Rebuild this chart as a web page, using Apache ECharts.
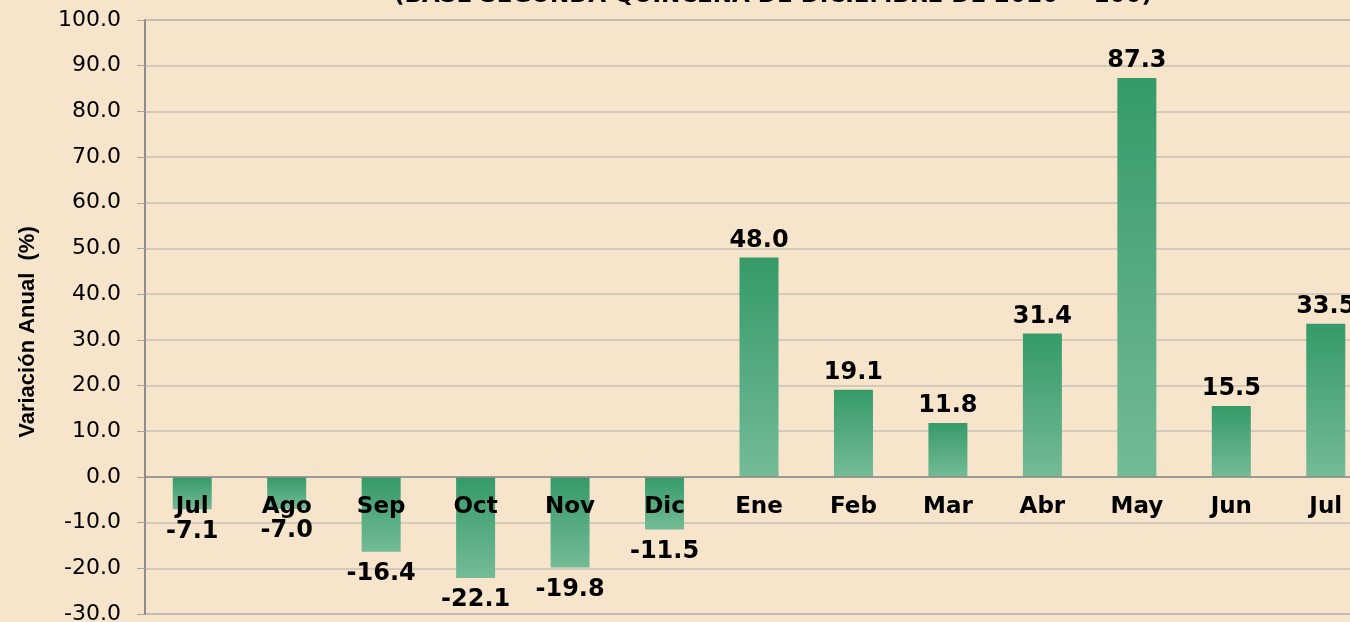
<!DOCTYPE html>
<html>
<head>
<meta charset="utf-8">
<script src="https://cdn.jsdelivr.net/npm/echarts@6/dist/echarts.min.js"></script>
<style>
  html, body { margin: 0; padding: 0; background: #f7e5cb; }
  #chart { width: 1350px; height: 622px; }
</style>
</head>
<body>
<div id="chart"></div>
<script>
var months = ['Jul', 'Ago', 'Sep', 'Oct', 'Nov', 'Dic', 'Ene', 'Feb', 'Mar', 'Abr', 'May', 'Jun', 'Jul'];
var variacion = [-7.1, -7.0, -16.4, -22.1, -19.8, -11.5, 48.0, 19.1, 11.8, 31.4, 87.3, 15.5, 33.5];
var titleText = '(BASE SEGUNDA QUINCENA DE DICIEMBRE DE 2010 = 100)';
var yName = 'Variación Anual  (%)';

var yMin = -30, yMax = 100;
var gridTop = 20, gridHeight = 594;

var myChart = echarts.init(document.getElementById('chart'));

var barColor = new echarts.graphic.LinearGradient(0, 0, 0, 1, [
  { offset: 0, color: '#359a68' },
  { offset: 1, color: '#74bb96' }
]);

var barData = variacion.map(function (v) {
  return {
    value: v,
    label: { position: v < 0 ? 'bottom' : 'top', distance: v < 0 ? 10 : 5 }
  };
});

// x axis sits on the zero line: shift it up from the bottom of the grid
var zeroOffset = -gridHeight * (0 - yMin) / (yMax - yMin);

var option = {
  backgroundColor: '#f7e5cb',
  title: {
    text: titleText,
    left: 768,
    textAlign: 'center',
    top: -20,
    textStyle: {
      fontFamily: 'DejaVu Sans',
      fontWeight: 'bold',
      fontSize: 23,
      color: '#000'
    }
  },
  grid: {
    left: 145,
    top: gridTop,
    width: 1228,
    height: gridHeight,
    outerBoundsMode: 'none',
    containLabel: false,
    show: true,
    borderColor: '#a9a69f',
    borderWidth: 1.5
  },
  xAxis: {
    type: 'category',
    data: months,
    position: 'bottom',
    offset: zeroOffset,
    z: 5,
    axisLine: { onZero: false, lineStyle: { color: '#8c8c8c', width: 1.5 } },
    axisTick: { length: 5, lineStyle: { color: '#8c8c8c', width: 1.5 } },
    axisLabel: {
      margin: 19,
      fontFamily: 'DejaVu Sans',
      fontWeight: 'bold',
      fontSize: 23,
      color: '#000'
    }
  },
  yAxis: {
    type: 'value',
    min: yMin,
    max: yMax,
    interval: 10,
    name: yName,
    nameLocation: 'middle',
    nameGap: 106,
    nameTextStyle: {
      fontFamily: 'Liberation Sans Narrow, Liberation Sans',
      fontWeight: 'bold',
      fontSize: 22,
      color: '#000',
      padding: [0, 30, 0, 0]
    },
    axisLine: { show: true, lineStyle: { color: '#8c8c8c', width: 2 } },
    axisTick: { show: true, length: 8, lineStyle: { color: '#a9a69f' } },
    splitLine: { lineStyle: { color: '#c6c1b8', width: 1.5 } },
    axisLabel: {
      margin: 24,
      fontFamily: 'DejaVu Sans',
      fontSize: 22,
      color: '#000',
      formatter: function (v) { return v.toFixed(1); }
    }
  },
  series: [
    {
      type: 'bar',
      barWidth: 39,
      itemStyle: { color: barColor },
      label: {
        show: true,
        fontFamily: 'DejaVu Sans',
        fontWeight: 'bold',
        fontSize: 24,
        color: '#000',
        formatter: function (p) { return p.value.toFixed(1); }
      },
      data: barData
    }
  ]
};

myChart.setOption(option);
</script>
</body>
</html>
